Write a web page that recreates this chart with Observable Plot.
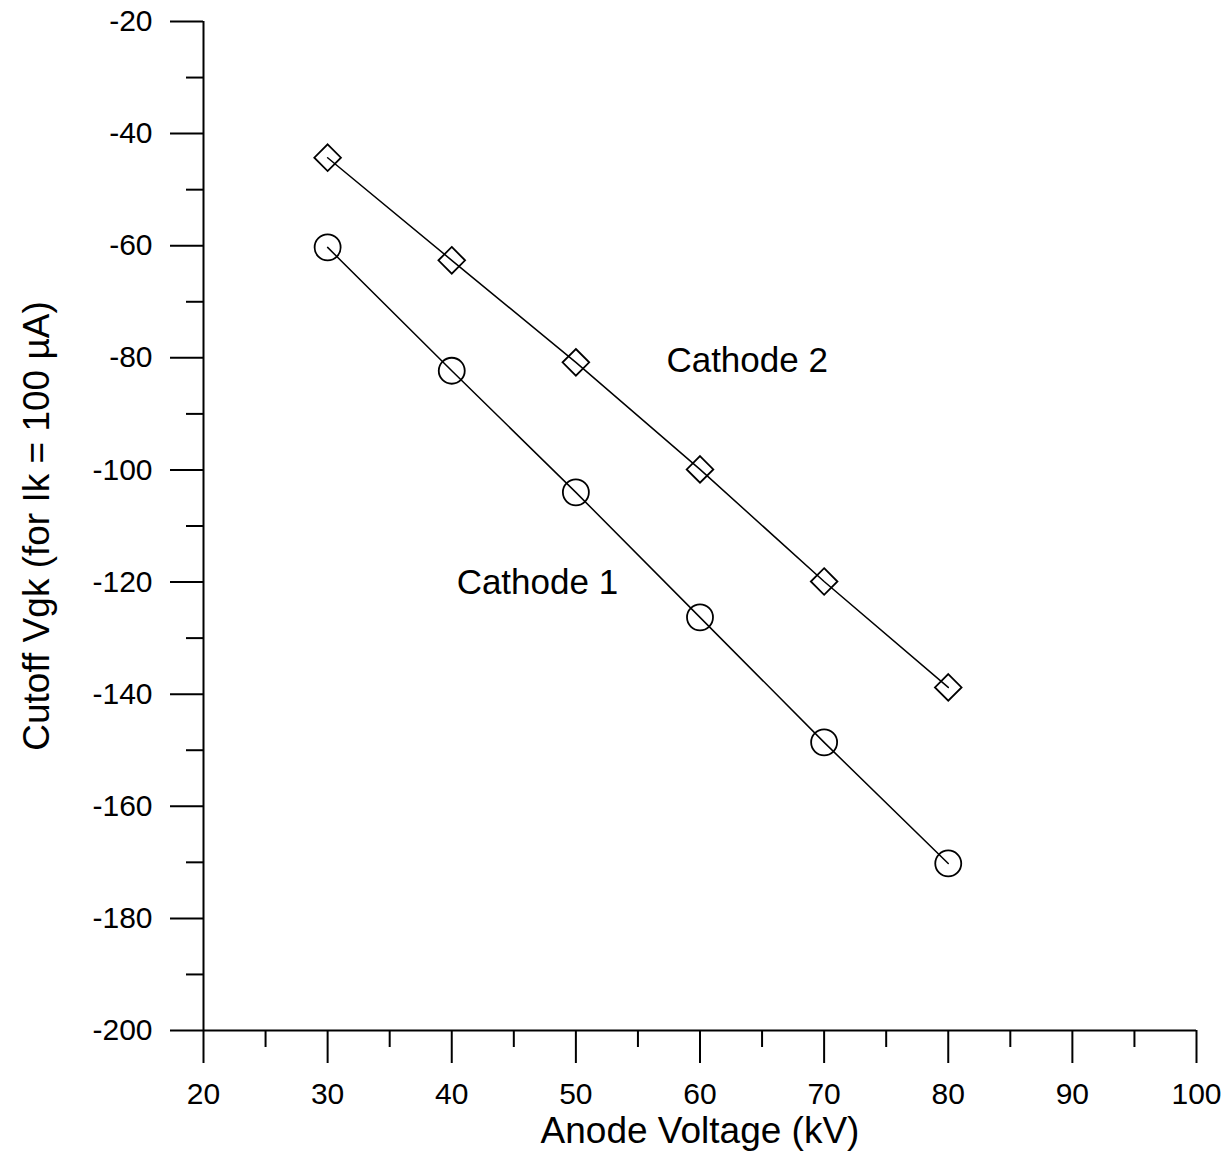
<!DOCTYPE html>
<html>
<head>
<meta charset="utf-8">
<script src="https://cdn.jsdelivr.net/npm/d3@7"></script>
<script src="https://cdn.jsdelivr.net/npm/@observablehq/plot@0.6"></script>
<style>
  html, body { margin: 0; padding: 0; background: #fff; }
  #chart { width: 1230px; height: 1157px; }
</style>
</head>
<body>
<div id="chart"></div>
<script>
// ---- data ----
const anodeVoltage = [30, 40, 50, 60, 70, 80];
const cathode1 = [-60.3, -82.3, -104.0, -126.3, -148.6, -170.2];
const cathode2 = [-44.3, -62.6, -80.8, -99.9, -119.9, -138.8];

const xTicks = [20, 30, 40, 50, 60, 70, 80, 90, 100];
const xMinorTicks = [25, 35, 45, 55, 65, 75, 85, 95];
const yTicks = [-200, -180, -160, -140, -120, -100, -80, -60, -40, -20];
const yMinorTicks = [-190, -170, -150, -130, -110, -90, -70, -50, -30];

const seriesNames = ["Cathode 1", "Cathode 2"];
const seriesLabelX = [46.9, 63.8];
const seriesLabelY = [-120.1, -80.6];

const xLabel = "Anode Voltage (kV)";
const yLabel = "Cutoff Vgk (for Ik = 100 µA)";

// ---- build tables ----
const c1 = anodeVoltage.map((v, i) => ({x: v, y: cathode1[i], s: seriesNames[0]}));
const c2 = anodeVoltage.map((v, i) => ({x: v, y: cathode2[i], s: seriesNames[1]}));
const labels = seriesNames.map((n, i) => ({name: n, x: seriesLabelX[i], y: seriesLabelY[i]}));

const font = "'Liberation Sans', Arial, Helvetica, sans-serif";

const chart = Plot.plot({
  width: 1230,
  height: 1157,
  marginLeft: 203,
  marginRight: 34,
  marginTop: 21,
  marginBottom: 127,
  x: {domain: [20, 100]},
  y: {domain: [-200, -20]},
  style: {fontFamily: font, background: "white", color: "black"},
  marks: [
    // axis lines
    Plot.ruleX([20], {stroke: "black", strokeWidth: 2}),
    Plot.ruleY([-200], {stroke: "black", strokeWidth: 2}),
    // y axis
    Plot.axisY({ticks: yTicks, tickSize: 33, tickPadding: 18, strokeWidth: 2,
      fontSize: 30, tickFormat: d => String(d), label: null}),
    Plot.axisY({ticks: yMinorTicks, tickSize: 17, strokeWidth: 2, text: null, label: null}),
    // x axis
    Plot.axisX({ticks: xTicks, tickSize: 33, tickPadding: 19, strokeWidth: 2,
      fontSize: 30, tickFormat: d => String(d), label: null}),
    Plot.axisX({ticks: xMinorTicks, tickSize: 17, strokeWidth: 2, text: null, label: null}),
    // series
    Plot.line(c1, {x: "x", y: "y", stroke: "black", strokeWidth: 1.5}),
    Plot.line(c2, {x: "x", y: "y", stroke: "black", strokeWidth: 1.5}),
    Plot.dot(c1, {x: "x", y: "y", symbol: "circle", r: 13, stroke: "black", strokeWidth: 1.8, fill: "none"}),
    Plot.dot(c2, {x: "x", y: "y", symbol: "diamond2", r: 12, stroke: "black", strokeWidth: 1.8, fill: "none"}),
    // series labels
    Plot.text(labels, {x: "x", y: "y", text: "name", fontSize: 35, fill: "black"}),
    // axis titles
    Plot.text([xLabel], {frameAnchor: "bottom", lineAnchor: "middle", textAnchor: "middle",
      dy: 101, fontSize: 37, fill: "black"}),
    Plot.text([yLabel], {frameAnchor: "left", lineAnchor: "middle", textAnchor: "middle",
      dx: -166, rotate: -90, fontSize: 37, fill: "black"})
  ]
});

document.getElementById("chart").appendChild(chart);
</script>
</body>
</html>
